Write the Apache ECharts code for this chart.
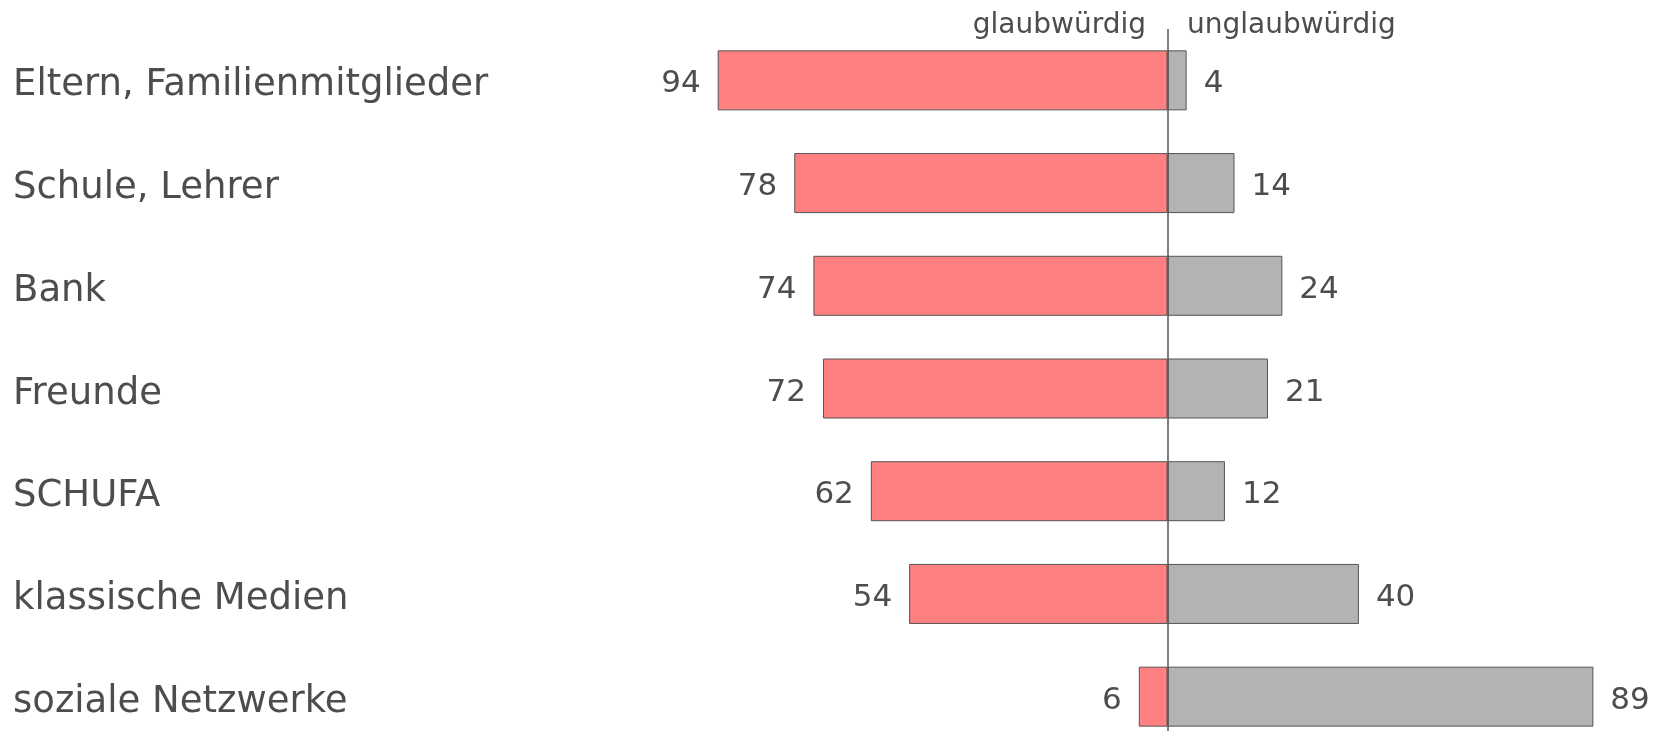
<!DOCTYPE html>
<html>
<head>
<meta charset="utf-8">
<script src="https://cdn.jsdelivr.net/npm/echarts@6/dist/echarts.min.js"></script>
<style>
html, body { margin: 0; padding: 0; background: #fff; }
#main { width: 1655px; height: 731px; }
</style>
</head>
<body>
<div id="main"></div>
<script>
var categories = ['Eltern, Familienmitglieder', 'Schule, Lehrer', 'Bank', 'Freunde', 'SCHUFA', 'klassische Medien', 'soziale Netzwerke'];
var glaubwuerdig = [94, 78, 74, 72, 62, 54, 6];
var unglaubwuerdig = [4, 14, 24, 21, 12, 40, 89];

var textColor = '#4d4d4d';
var fontName = 'DejaVu Sans';

var negData = glaubwuerdig.map(function (v) { return -v; });

var option = {
	animation : false,
	textStyle : {
		fontFamily : fontName
	},
	grid : {
		left : 689,
		right : 9,
		top : 29,
		height : 719,
		outerBoundsMode : 'none',
		containLabel : false
	},
	xAxis : {
		type : 'value',
		min : -100,
		max : 100,
		show : false
	},
	yAxis : {
		type : 'category',
		data : categories,
		inverse : true,
		axisLine : { show : false },
		axisTick : { show : false },
		splitLine : { show : false },
		axisLabel : {
			align : 'left',
			margin : 676,
			formatter : function (v) { return '{a|' + v + '}'; },
			rich : {
				a : {
					color : textColor,
					fontSize : 37,
					fontFamily : fontName,
					padding : [11, 0, 0, 0]
				}
			}
		}
	},
	series : [ {
		name : 'glaubwürdig',
		type : 'bar',
		data : negData,
		barWidth : 60,
		barGap : '-100%',
		itemStyle : {
			color : '#ff8080',
			borderColor : '#555',
			borderWidth : 1
		},
		label : {
			show : true,
			position : 'left',
			distance : 17,
			color : textColor,
			fontSize : 31,
			fontFamily : fontName,
			offset : [0, 4],
			formatter : function (p) { return Math.abs(p.value); }
		}
	}, {
		name : 'unglaubwürdig',
		type : 'bar',
		data : unglaubwuerdig,
		barWidth : 60,
		itemStyle : {
			color : '#b3b3b3',
			borderColor : '#555',
			borderWidth : 1
		},
		label : {
			show : true,
			position : 'right',
			distance : 17,
			color : textColor,
			fontSize : 31,
			fontFamily : fontName,
			offset : [0, 4]
		},
		markLine : {
			silent : true,
			symbol : 'none',
			label : { show : false },
			lineStyle : { color : '#555', width : 1.5, type : 'solid' },
			data : [ { xAxis : 0 } ]
		}
	} ],
	graphic : [ {
		type : 'text',
		right : 1655 - 1146,
		top : 12,
		style : {
			text : 'glaubwürdig',
			fill : textColor,
			font : '28px "DejaVu Sans"'
		}
	}, {
		type : 'text',
		left : 1187,
		top : 12,
		style : {
			text : 'unglaubwürdig',
			fill : textColor,
			font : '28px "DejaVu Sans"'
		}
	} ]
};

var myChart = echarts.init(document.getElementById('main'));
myChart.setOption(option, true);
</script>
</body>
</html>
